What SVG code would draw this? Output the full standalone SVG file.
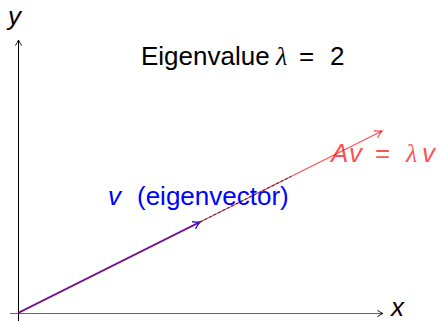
<svg xmlns="http://www.w3.org/2000/svg" width="440" height="321" viewBox="0 0 440 321">
<style>
text{font-family:"Liberation Sans",Arial,sans-serif;font-size:26px;}
.it{font-style:italic;}
.lam{font-family:"Liberation Serif",serif;font-style:italic;}
.ax{stroke:#000;stroke-width:1;fill:none;}
</style>
<defs>
<marker id="ahk" viewBox="0 0 10 10" refX="9" refY="5" markerWidth="8" markerHeight="8" orient="auto" markerUnits="userSpaceOnUse">
<path d="M2,1 Q6,4 9,5 Q6,6 2,9" fill="none" stroke="#000" stroke-width="1.2"/>
</marker>
<marker id="ahb" viewBox="0 0 10 10" refX="9" refY="5" markerWidth="10" markerHeight="10" orient="auto" markerUnits="userSpaceOnUse">
<path d="M2,1 Q6,4 9,5 Q6,6 2,9" fill="none" stroke="#0000ff" stroke-width="1.2"/>
</marker>
<marker id="ahr" viewBox="0 0 10 10" refX="9" refY="5" markerWidth="10" markerHeight="10" orient="auto" markerUnits="userSpaceOnUse">
<path d="M2,1 Q6,4 9,5 Q6,6 2,9" fill="none" stroke="#ff0000" stroke-opacity="0.7" stroke-width="1.2"/>
</marker>
</defs>
<g id="connectors">
<line id="x-axis" class="ax" x1="10" y1="313.5" x2="383" y2="313.5" stroke-opacity="0.6" marker-end="url(#ahk)"/>
<line id="y-axis" class="ax" x1="18.5" y1="321" x2="18.5" y2="40" marker-end="url(#ahk)"/>
<line id="v" x1="18" y1="313" x2="200" y2="222" stroke="#0000ff" stroke-width="1.8" marker-end="url(#ahb)"/>
<line id="Av" x1="18" y1="313" x2="382" y2="131" stroke="#ff0000" stroke-opacity="0.7" stroke-width="1.2" marker-end="url(#ahr)"/>
<line id="dash" x1="200" y1="222" x2="291" y2="176.5" stroke="#000" stroke-opacity="0.6" stroke-width="1.2" stroke-dasharray="3,2"/>
</g>
<g id="labels">
<text class="it" x="8" y="25">y</text>
<text class="it" x="391" y="316">x</text>
<text y="65"><tspan x="141">Eigenvalue</tspan><tspan class="lam" x="276">λ</tspan><tspan x="299">=</tspan><tspan x="330">2</tspan></text>
<text y="205" fill="#0000ff"><tspan class="it" x="108">v</tspan><tspan x="137">(eigenvector)</tspan></text>
<text y="162" fill="#ff0000" fill-opacity="0.7"><tspan class="it" x="331">A</tspan><tspan class="it" x="349">v</tspan><tspan x="375">=</tspan><tspan class="lam" x="406">λ</tspan><tspan class="it" x="422">v</tspan></text>
</g>
</svg>
